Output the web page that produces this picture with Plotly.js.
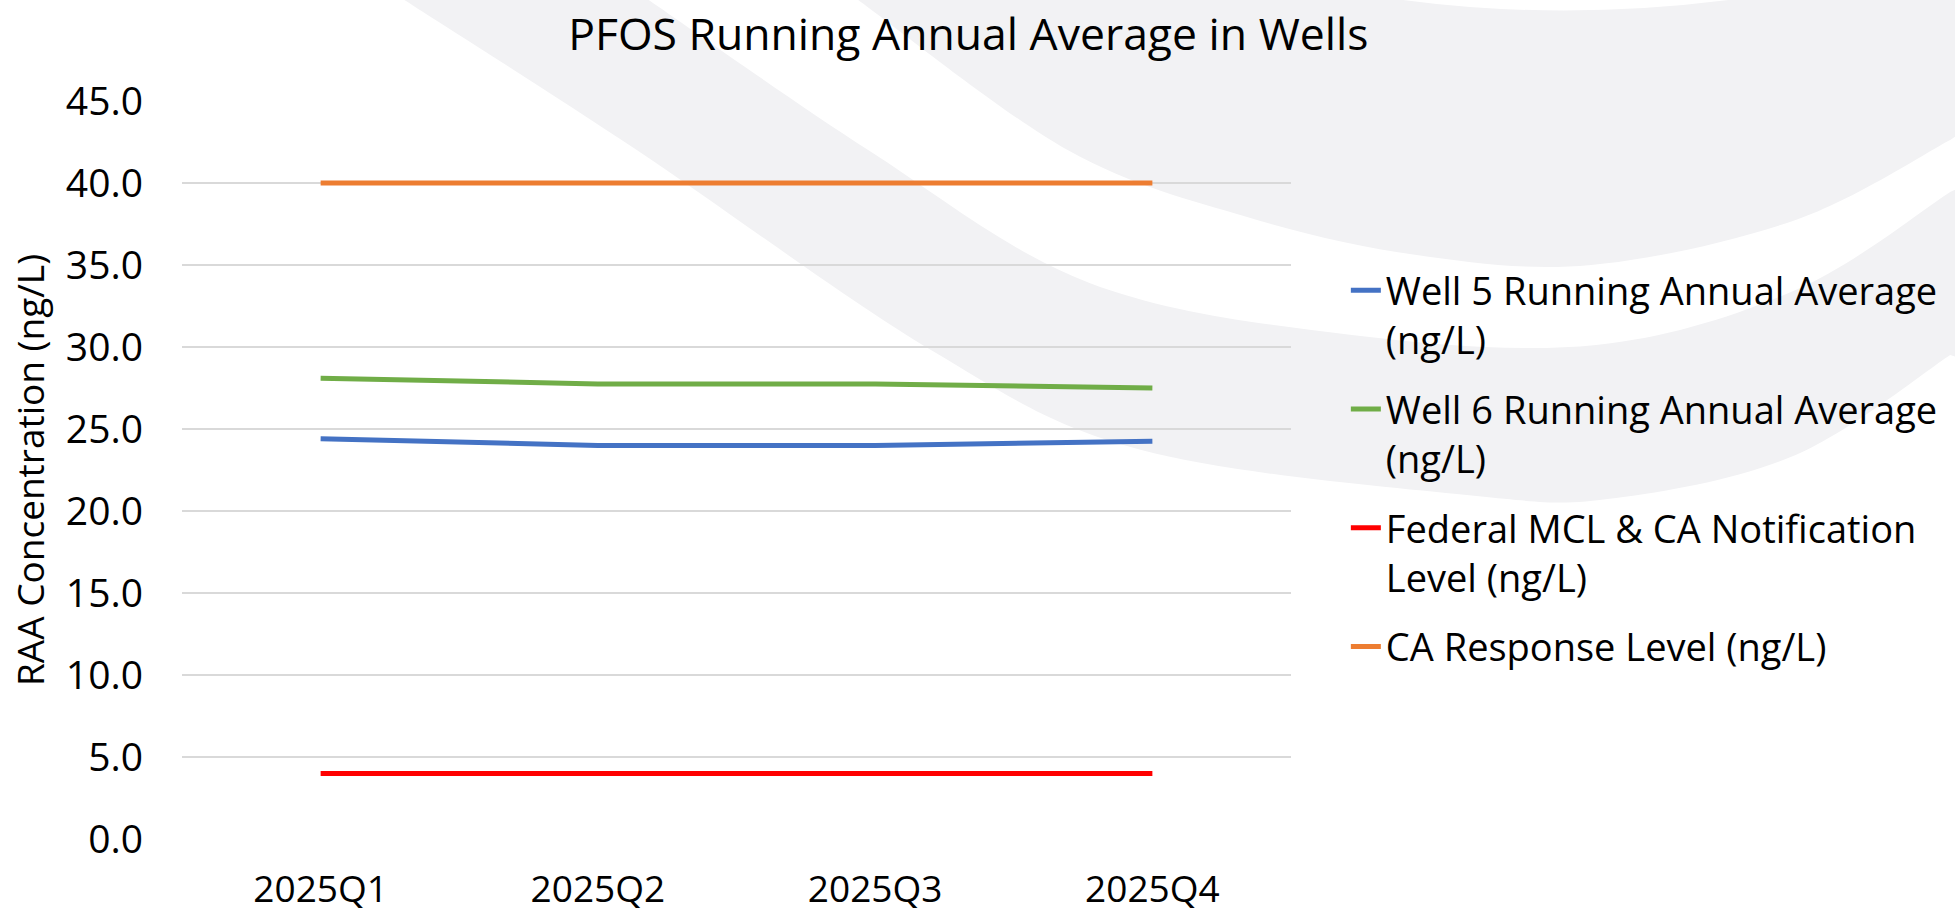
<!DOCTYPE html>
<html>
<head>
<meta charset="utf-8">
<script src="https://cdn.plot.ly/plotly-3.0.1.min.js"></script>
<style>html,body{margin:0;padding:0;background:#fff;}#chart{width:1955px;height:914px;}</style>
</head>
<body>
<div id="chart"></div>
<script>
// ---- data ----
const quarters = ["2025Q1", "2025Q2", "2025Q3", "2025Q4"];
const well5RAA = [24.4, 24.0, 24.0, 24.25];
const well6RAA = [28.1, 27.75, 27.75, 27.5];
const federalMCL = [4.0, 4.0, 4.0, 4.0];
const caResponse = [40.0, 40.0, 40.0, 40.0];
const seriesNames = [
  "Well 5 Running Annual Average<br>(ng/L)",
  "Well 6 Running Annual Average<br>(ng/L)",
  "Federal MCL & CA Notification<br>Level (ng/L)",
  "CA Response Level (ng/L)"
];
const yTicks = [0, 5, 10, 15, 20, 25, 30, 35, 40, 45];

// ---- layout geometry (style) ----
const M = {l: 182, r: 661, t: 101, b: 75};
const W = 1955 - M.l - M.r, H = 914 - M.t - M.b;
const PX = x => ((x - M.l) / W).toFixed(5);
const PY = y => ((914 - M.b - y) / H).toFixed(5);
function curve(pts) {
  let s = "";
  for (let i = 0; i < pts.length - 1; i++) {
    const p0 = pts[i - 1] || pts[i], p1 = pts[i], p2 = pts[i + 1], p3 = pts[i + 2] || pts[i + 1];
    const c1 = [p1[0] + (p2[0] - p0[0]) / 6, p1[1] + (p2[1] - p0[1]) / 6];
    const c2 = [p2[0] - (p3[0] - p1[0]) / 6, p2[1] - (p3[1] - p1[1]) / 6];
    s += ` C ${PX(c1[0])},${PY(c1[1])} ${PX(c2[0])},${PY(c2[1])} ${PX(p2[0])},${PY(p2[1])}`;
  }
  return s;
}
const bEdge = [[860,0],[1070,150],[1250,217],[1420,255],[1595,265],[1800,220],[1955,140]];
const pathB = `M ${PX(845)},${PY(-20)} L ${PX(860)},${PY(0)}` + curve(bEdge) +
  ` L ${PX(1970)},${PY(130)} L ${PX(1970)},${PY(-20)} Z`;
const aUpper = [[650,0],[870,150],[1092,283],[1355,335],[1600,345],[1800,290],[1955,192]];
const aLower = [[1955,355],[1800,455],[1620,498],[1480,496],[1144,450],[933,350],[638,150],[405,0]];
const pathA = `M ${PX(620)},${PY(-20)} L ${PX(650)},${PY(0)}` + curve(aUpper) +
  ` L ${PX(1970)},${PY(185)} L ${PX(1970)},${PY(360)} L ${PX(1955)},${PY(355)}` + curve(aLower) +
  ` L ${PX(380)},${PY(-20)} Z`;
const pathArc = `M ${PX(1385)},${PY(-3)} Q ${PX(1565)},${PY(24)} ${PX(1755)},${PY(-3)} Z`;

const FONT = "Open Sans, sans-serif";
const colors = ["#4472C4", "#70AD47", "#FF0000", "#ED7D31"];
const values = [well5RAA, well6RAA, federalMCL, caResponse];

const traces = values.map((v, i) => ({
  type: "scatter",
  mode: "lines",
  x: quarters,
  y: v,
  name: seriesNames[i],
  legendgroup: "g" + i,
  line: {color: colors[i], width: 5},
  hoverinfo: "x+y+name"
}));

const layout = {
  width: 1955,
  height: 914,
  margin: M,
  paper_bgcolor: "#ffffff",
  plot_bgcolor: "rgba(0,0,0,0)",
  font: {family: FONT, color: "#000000"},
  title: {
    text: "PFOS Running Annual Average in Wells",
    font: {family: FONT, size: 44.5, color: "#000000"},
    xref: "container", x: 0.4953, xanchor: "center",
    yref: "container", y: 0.979, yanchor: "top"
  },
  xaxis: {
    type: "category",
    range: [-0.5, 3.5],
    showgrid: false,
    zeroline: false,
    showline: false,
    ticks: "",
    tickfont: {family: FONT, size: 37, color: "#000000"},
    ticklabelstandoff: 25
  },
  yaxis: {
    range: [0, 45],
    tickvals: yTicks,
    tickformat: ".1f",
    showgrid: true,
    gridcolor: "#D9D9D9",
    gridwidth: 2,
    zeroline: false,
    showline: false,
    ticks: "",
    tickfont: {family: FONT, size: 39, color: "#000000"},
    ticklabelstandoff: 38,
    title: {
      text: "RAA Concentration (ng/L)",
      font: {family: FONT, size: 37, color: "#000000"},
      standoff: 9
    }
  },
  legend: {
    x: (1349 - M.l) / W,
    xanchor: "left",
    y: (914 - M.b - 259) / H,
    yanchor: "top",
    valign: "top",
    bgcolor: "rgba(0,0,0,0)",
    borderwidth: 0,
    tracegroupgap: 17,
    font: {family: FONT, size: 38, color: "#000000"}
  },
  showlegend: true,
  shapes: [
    {type: "path", xref: "paper", yref: "paper", layer: "below", path: pathA, fillcolor: "#F2F2F4", line: {width: 0}},
    {type: "path", xref: "paper", yref: "paper", layer: "below", path: pathB, fillcolor: "#F2F2F4", line: {width: 0}},
    {type: "path", xref: "paper", yref: "paper", layer: "below", path: pathArc, fillcolor: "#FFFFFF", line: {width: 0}}
  ]
};

Plotly.newPlot("chart", traces, layout, {displayModeBar: false, staticPlot: true});
</script>
</body>
</html>
